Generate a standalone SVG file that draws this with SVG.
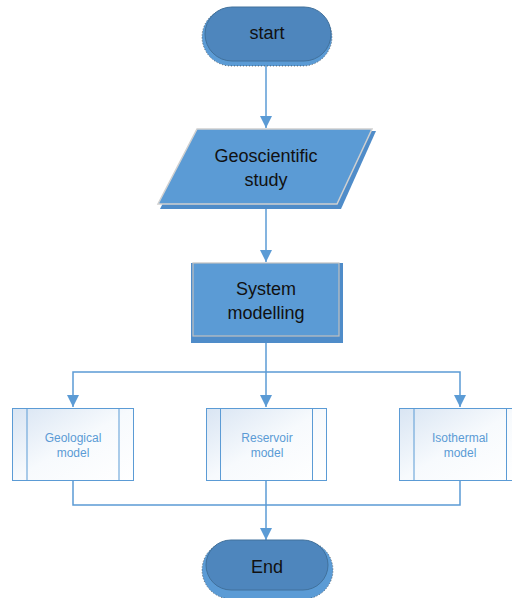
<svg xmlns="http://www.w3.org/2000/svg" width="512" height="598" viewBox="0 0 512 598">
<style>
.conn{fill:none;stroke:#5b9bd5;stroke-width:1.5}
.big{font-family:"Liberation Sans",Arial,sans-serif;font-size:18px;fill:#111;text-anchor:middle}
.small{font-family:"Liberation Sans",Arial,sans-serif;font-size:12px;fill:#5b9bd5;text-anchor:middle}
.sub{fill:url(#subg);stroke:#5b9bd5;stroke-width:1}
.subl{stroke:#5b9bd5;stroke-width:1}
.termsh{fill:#5b9bd5;stroke:#222;stroke-width:0.6;stroke-dasharray:1 2}
.term{fill:#4e86bd;stroke:#41719c;stroke-width:1}
</style>
<defs>
<linearGradient id="subg" x1="0" y1="0" x2="1" y2="1">
<stop offset="0" stop-color="#d9e5f3"/>
<stop offset="0.5" stop-color="#f7fafd"/>
<stop offset="1" stop-color="#ffffff"/>
</linearGradient>
<marker id="arr" markerUnits="userSpaceOnUse" markerWidth="12" markerHeight="12" viewBox="0 0 12 12" refX="12" refY="6" orient="auto">
<path d="M0,0 L12,6 L0,12 Z" fill="#5b9bd5"/>
</marker>
</defs>
<rect width="512" height="598" fill="#ffffff"/>
<g id="connectors">
<path class="conn" d="M266 62 V128" marker-end="url(#arr)"/>
<path class="conn" d="M266 204 V262" marker-end="url(#arr)"/>
<path class="conn" d="M266 339 V407" marker-end="url(#arr)"/>
<path class="conn" d="M266 372 H73 V407" marker-end="url(#arr)"/>
<path class="conn" d="M266 372 H460 V407" marker-end="url(#arr)"/>
<path class="conn" d="M73 481 V505 H460 V481"/>
<path class="conn" d="M266 481 V540" marker-end="url(#arr)"/>
</g>
<g id="start">
<rect class="termsh" x="202" y="8" width="130" height="58" rx="29"/>
<rect class="term" x="205" y="7" width="126" height="54" rx="27"/>
<text class="big" x="267" y="39">start</text>
</g>
<g id="geoscientific">
<polygon points="199,131 376,131 341,209 160,209" fill="#4f8cc9"/>
<polygon points="197,129 372,129 337,204 158,204" fill="#5b9bd5" stroke="#d0d0d0" stroke-width="1.5"/>
<text class="big" x="266" y="162">Geoscientific</text>
<text class="big" x="266" y="186">study</text>
</g>
<g id="system">
<rect x="191" y="263" width="152" height="80" fill="#4f8cc9"/>
<rect x="193" y="263" width="146" height="73" fill="#5b9bd5" stroke="#c0c0c0" stroke-width="1.2"/>
<text class="big" x="266" y="295">System</text>
<text class="big" x="266" y="319">modelling</text>
</g>
<g id="geological">
<rect class="sub" x="12.5" y="408.5" width="121" height="72"/>
<line class="subl" x1="27" y1="408.5" x2="27" y2="480.5"/>
<line class="subl" x1="119" y1="408.5" x2="119" y2="480.5"/>
<text class="small" x="73" y="442">Geological</text>
<text class="small" x="73" y="457">model</text>
</g>
<g id="reservoir">
<rect class="sub" x="206.5" y="408.5" width="120" height="72"/>
<line class="subl" x1="220.5" y1="408.5" x2="220.5" y2="480.5"/>
<line class="subl" x1="312.5" y1="408.5" x2="312.5" y2="480.5"/>
<text class="small" x="267" y="442">Reservoir</text>
<text class="small" x="267" y="457">model</text>
</g>
<g id="isothermal">
<rect class="sub" x="399.5" y="408.5" width="121" height="72"/>
<line class="subl" x1="414" y1="408.5" x2="414" y2="480.5"/>
<line class="subl" x1="506.5" y1="408.5" x2="506.5" y2="480.5"/>
<text class="small" x="460" y="442">Isothermal</text>
<text class="small" x="460" y="457">model</text>
</g>
<g id="end">
<rect class="termsh" x="202" y="541" width="131" height="58" rx="29"/>
<rect class="term" x="206" y="540" width="122" height="50" rx="25"/>
<text class="big" x="267" y="573">End</text>
</g>
</svg>
